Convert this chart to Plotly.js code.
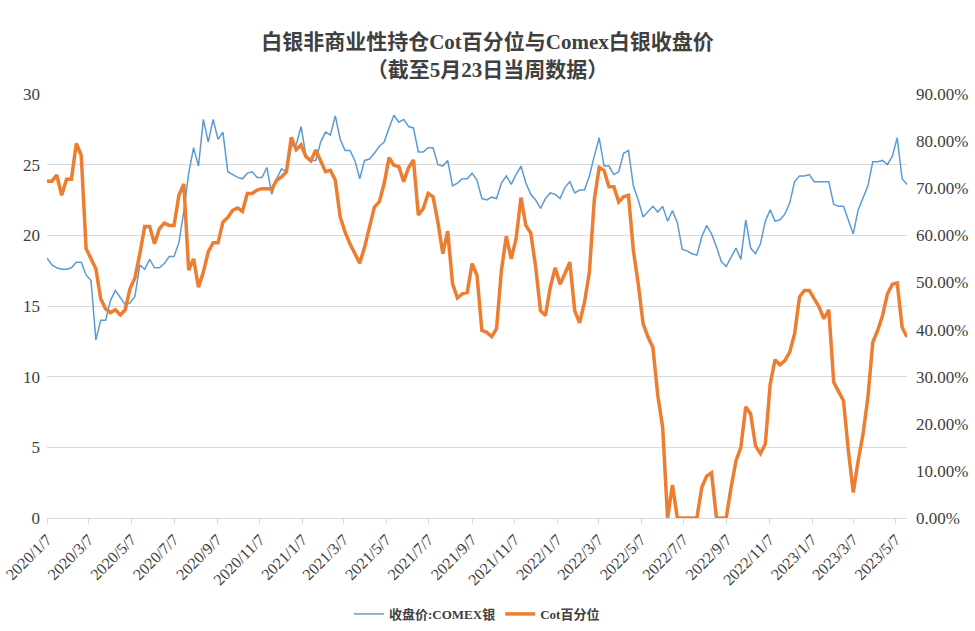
<!DOCTYPE html>
<html>
<head>
<meta charset="utf-8">
<script src="https://cdn.plot.ly/plotly-3.0.1.min.js"></script>
<style>
html,body{margin:0;padding:0;background:#fff;}
#chart{width:975px;height:631px;}
</style>
</head>
<body>
<div id="chart"></div>
<script>
const dates = [
"2020-01-07","2020-01-14","2020-01-21","2020-01-28","2020-02-04","2020-02-11","2020-02-18","2020-02-25",
"2020-03-03","2020-03-10","2020-03-17","2020-03-24","2020-03-31","2020-04-07","2020-04-14","2020-04-21","2020-04-28",
"2020-05-05","2020-05-12","2020-05-19","2020-05-26","2020-06-02","2020-06-09","2020-06-16","2020-06-23","2020-06-30",
"2020-07-07","2020-07-14","2020-07-21","2020-07-28","2020-08-04","2020-08-11","2020-08-18","2020-08-25",
"2020-09-01","2020-09-08","2020-09-15","2020-09-22","2020-09-29","2020-10-06","2020-10-13","2020-10-20","2020-10-27",
"2020-11-03","2020-11-10","2020-11-17","2020-11-24","2020-12-01","2020-12-08","2020-12-15","2020-12-22","2020-12-29",
"2021-01-05","2021-01-12","2021-01-19","2021-01-26","2021-02-02","2021-02-09","2021-02-16","2021-02-23",
"2021-03-02","2021-03-09","2021-03-16","2021-03-23","2021-03-30","2021-04-06","2021-04-13","2021-04-20","2021-04-27",
"2021-05-04","2021-05-11","2021-05-18","2021-05-25","2021-06-01","2021-06-08","2021-06-15","2021-06-22","2021-06-29",
"2021-07-06","2021-07-13","2021-07-20","2021-07-27","2021-08-03","2021-08-10","2021-08-17","2021-08-24","2021-08-31",
"2021-09-07","2021-09-14","2021-09-21","2021-09-28","2021-10-05","2021-10-12","2021-10-19","2021-10-26",
"2021-11-02","2021-11-09","2021-11-16","2021-11-23","2021-11-30","2021-12-07","2021-12-14","2021-12-21","2021-12-28",
"2022-01-04","2022-01-11","2022-01-18","2022-01-25","2022-02-01","2022-02-08","2022-02-15","2022-02-22",
"2022-03-01","2022-03-08","2022-03-15","2022-03-22","2022-03-29","2022-04-05","2022-04-12","2022-04-19","2022-04-26",
"2022-05-03","2022-05-10","2022-05-17","2022-05-24","2022-05-31","2022-06-07","2022-06-14","2022-06-21","2022-06-28",
"2022-07-05","2022-07-12","2022-07-19","2022-07-26","2022-08-02","2022-08-09","2022-08-16","2022-08-23","2022-08-30",
"2022-09-06","2022-09-13","2022-09-20","2022-09-27","2022-10-04","2022-10-11","2022-10-18","2022-10-25",
"2022-11-01","2022-11-08","2022-11-15","2022-11-22","2022-11-29","2022-12-06","2022-12-13","2022-12-20","2022-12-27",
"2023-01-03","2023-01-10","2023-01-17","2023-01-24","2023-01-31","2023-02-07","2023-02-14","2023-02-21","2023-02-28",
"2023-03-07","2023-03-14","2023-03-21","2023-03-28","2023-04-04","2023-04-11","2023-04-18","2023-04-25",
"2023-05-02","2023-05-09","2023-05-16","2023-05-23"
];

// 收盘价:COMEX银 (left axis)
const silverClose = [
18.4,17.9,17.7,17.6,17.6,17.7,18.1,18.1,17.2,16.8,
12.6,14.0,14.0,15.4,16.1,15.6,15.1,15.2,15.7,17.9,
17.6,18.3,17.7,17.7,18.0,18.5,18.5,19.5,21.7,24.4,
26.2,24.9,28.2,26.6,28.2,26.8,27.3,24.5,24.3,24.1,
24.0,24.4,24.5,24.1,24.1,24.8,22.9,24.0,24.7,24.5,
26.3,26.4,27.7,25.6,25.3,25.3,26.6,27.3,27.1,28.45,
26.8,26.0,26.0,25.3,24.0,25.3,25.4,25.8,26.3,26.6,
27.6,28.5,28.0,28.2,27.7,27.6,25.9,25.9,26.2,26.2,
25.0,24.9,25.3,23.5,23.7,24.0,24.0,24.4,23.9,22.6,
22.5,22.7,22.6,23.7,24.2,23.6,24.3,24.9,23.7,22.9,
22.5,21.9,22.6,23.0,22.9,22.6,23.4,23.8,23.0,23.2,
23.2,24.2,25.6,26.9,24.9,24.9,24.3,24.5,25.8,26.0,
23.5,22.5,21.3,21.7,22.05,21.65,22.05,21.0,21.75,20.9,
19.0,18.9,18.7,18.6,19.9,20.7,20.1,19.2,18.15,17.8,
18.5,19.1,18.3,21.1,19.1,18.7,19.4,21.0,21.8,21.0,
21.1,21.5,22.3,23.8,24.2,24.2,24.3,23.8,23.8,23.8,
23.8,22.2,22.05,22.05,21.1,20.1,21.8,22.65,23.5,25.2,
25.2,25.3,25.0,25.6,26.9,24.0,23.6
];

// Cot百分位 (right axis, %)
const cotPercentile = [
71.5,71.5,72.8,68.5,71.9,71.9,79.5,77.0,57.2,55.0,
52.9,46.5,44.4,43.6,44.2,43.1,44.2,48.7,51.0,56.1,
61.9,61.9,58.2,61.4,62.6,62.1,62.1,68.5,70.9,52.6,
55.0,49.0,52.2,56.5,58.4,58.4,62.8,63.8,65.3,65.8,
65.1,68.9,68.9,69.6,69.9,69.9,69.8,71.7,72.4,73.5,
80.8,78.2,79.2,76.7,75.8,78.1,75.8,73.5,73.8,71.7,
63.9,60.7,58.2,56.1,54.1,57.5,61.4,66.0,67.1,71.0,
76.5,74.9,74.6,71.4,74.4,76.0,64.3,65.7,68.9,68.2,
62.8,56.1,60.9,49.7,46.7,47.6,47.9,54.0,51.5,39.8,
39.4,38.5,40.2,52.6,59.8,55.0,59.3,68.0,62.1,60.5,
53.3,44.0,43.0,49.0,53.1,49.6,51.9,54.3,44.0,41.4,
45.8,52.2,67.5,74.4,73.8,70.3,70.3,67.1,68.2,68.5,
56.8,49.7,41.2,38.4,36.2,26.0,19.2,0,7.0,0,
0,0,0,0,6.5,8.9,9.6,0,0,0,
6.5,12.1,15.0,23.6,22.1,15.3,13.7,15.7,28.4,33.6,
32.5,33.4,35.2,39.1,46.9,48.3,48.3,46.5,44.8,42.3,
44.2,28.8,27.0,24.9,14.3,5.4,12.1,17.8,25.6,37.3,
39.8,43.0,47.6,49.6,49.9,40.5,38.4
];

const seriesNames = ["收盘价:COMEX银", "Cot百分位"];
const titleText = "白银非商业性持仓Cot百分位与Comex白银收盘价<br>（截至5月23日当周数据）";

const serif = "Liberation Serif, DejaVu Serif, Noto Sans CJK SC, serif";
const cjk = "Liberation Serif, Noto Sans CJK SC, sans-serif";

const traces = [
  {x: dates, y: silverClose, name: seriesNames[0], type: "scatter", mode: "lines",
   line: {color: "#5B9BD5", width: 1.5}, yaxis: "y", hoverinfo: "x+y"},
  {x: dates, y: cotPercentile, name: seriesNames[1], type: "scatter", mode: "lines",
   line: {color: "#ED7D31", width: 3.5}, yaxis: "y2", hoverinfo: "x+y"}
];

const layout = {
  width: 975, height: 631,
  paper_bgcolor: "#ffffff", plot_bgcolor: "#ffffff",
  margin: {l: 47, r: 68, t: 94, b: 113},
  title: {text: titleText, x: 0.5, xanchor: "center", y: 0.922, yanchor: "top", yref: "container",
          font: {family: cjk, size: 21, color: "#404040", weight: "bold"}},
  showlegend: true,
  legend: {orientation: "h", x: 0.5, xanchor: "center", y: 0.027, yanchor: "middle", yref: "container",
           font: {family: cjk, size: 13, color: "#404040", weight: "bold"}, itemwidth: 30, tracegroupgap: 0},
  xaxis: {type: "date", range: ["2020-01-07", "2023-05-23"], tick0: "2020-01-07", dtick: "M2",
          tickformat: "%Y/%-m/%-d", tickangle: -45, showgrid: false, zeroline: false,
          showline: true, linecolor: "#D9D9D9", linewidth: 1, ticks: "outside", ticklen: 5, tickcolor: "#D9D9D9",
          tickfont: {family: serif, size: 16, color: "#404040"}},
  yaxis: {range: [0, 30], dtick: 5, showgrid: true, gridcolor: "#D9D9D9", gridwidth: 1, zeroline: false,
          showline: false, ticks: "", ticklabelstandoff: 6,
          tickfont: {family: serif, size: 17, color: "#404040"}},
  yaxis2: {range: [0, 90], dtick: 10, overlaying: "y", side: "right", showgrid: false, zeroline: false,
           showline: false, ticks: "", tickformat: ".2f", ticksuffix: "%", ticklabelstandoff: 8,
           tickfont: {family: serif, size: 17, color: "#404040"}}
};

Plotly.newPlot("chart", traces, layout, {displayModeBar: false, staticPlot: true});
</script>
</body>
</html>
